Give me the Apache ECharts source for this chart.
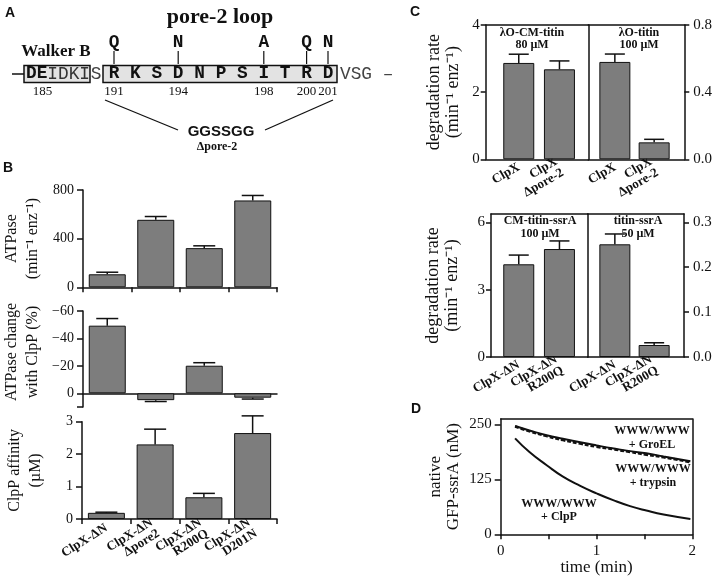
<!DOCTYPE html>
<html>
<head>
<meta charset="utf-8">
<script src="https://cdn.jsdelivr.net/npm/echarts@6/dist/echarts.min.js"></script>
<style>
  html, body { margin: 0; padding: 0; background: #fff; }
  #chart { width: 718px; height: 581px; }
</style>
</head>
<body>
<div id="chart"></div>
<script>
// ---- panel B data (ClpX-ΔN variants) ----
const bCategories = ['ClpX-ΔN', 'ClpX-ΔN\nΔpore2', 'ClpX-ΔN\nR200Q', 'ClpX-ΔN\nD201N'];
const atpaseRate = [107, 555, 322, 714];
const atpaseRateErr = [17, 27, 19, 41];
const atpaseChange = [-49.3, 5, -20.1, 3.2];
const atpaseChangeErr = [5.2, 1, 2.2, 1];
const clppAffinity = [0.19, 2.3, 0.67, 2.65];
const clppAffinityErr = [0.02, 0.47, 0.12, 0.53];

// ---- panel C data ----
const cTopCategories = ['ClpX', 'ClpX\nΔpore-2'];
const cmTitinRate = [2.87, 2.68];        // λO-CM-titin 80 µM, left axis
const cmTitinErr = [0.26, 0.25];
const titinRate = [0.58, 0.101];         // λO-titin 100 µM, right axis
const titinErr = [0.047, 0.018];
const cBotCategories = ['ClpX-ΔN', 'ClpX-ΔN\nR200Q'];
const cmTitinSsrARate = [4.13, 4.81];    // CM-titin-ssrA 100 µM, left axis
const cmTitinSsrAErr = [0.41, 0.36];
const titinSsrARate = [0.251, 0.0267];   // titin-ssrA 50 µM, right axis
const titinSsrAErr = [0.023, 0.005];

// ---- panel D data ----
const timeMin = [0.15, 0.3, 0.48, 0.65, 0.83, 1.0, 1.18, 1.35, 1.52, 1.7, 1.98];
const clpPCurve = [218, 187, 157, 131, 110, 93, 77, 64, 54, 45, 35];
const groELCurve = [246, 236, 225, 217, 209, 202, 195, 189, 184, 177, 166];
const trypsinCurve = [245, 234, 223, 214, 206, 199, 193, 187, 181, 175, 164];

// ---- panel A sequence ----
const walkerSeqBold = 'DE';
const walkerSeqRest = 'IDKI';
const poreSeq = ['R', 'K', 'S', 'D', 'N', 'P', 'S', 'I', 'T', 'R', 'D'];
const mutSites = [191, 194, 198, 200, 201];
const mutResidues = ['Q', 'N', 'A', 'Q', 'N'];
const residueTicks = [185, 191, 194, 198, 200, 201];

const SERIF = '"Liberation Serif", "Times New Roman", serif';
const SANS = '"Liberation Sans", Arial, sans-serif';
const MONO = '"Liberation Mono", "DejaVu Sans Mono", monospace';
const ink = '#111';
const barGray = '#7d7d7d';

let chart = echarts.init(document.getElementById('chart'));

function axisLine(show, onZero) {
    return { show: show, onZero: !!onZero, lineStyle: { color: ink, width: 1.5 } };
}

// a value axis with labels/ticks
function valueAxis(grid, min, max, labels, ticks, extra) {
    return Object.assign({
        type: 'value', gridIndex: grid, min: min, max: max,
        splitLine: { show: false },
        axisLine: axisLine(true, false),
        axisTick: { show: true, length: 6, customValues: ticks, lineStyle: { color: ink, width: 1.5 } },
        axisLabel: { color: ink, fontFamily: SERIF, fontSize: 14, margin: 9, customValues: labels }
    }, extra);
}

// an axis that only draws its line (used for frame borders)
function borderAxis(grid, position) {
    return {
        type: 'value', gridIndex: grid, position: position, min: 0, max: 1,
        axisLine: axisLine(true, false),
        axisTick: { show: false }, axisLabel: { show: false }, splitLine: { show: false }
    };
}

function hiddenY(grid, min, max) {
    return { type: 'value', gridIndex: grid, min: min, max: max, show: false, splitLine: { show: false } };
}

function catAxis(grid, data, opts) {
    return {
        type: 'category', gridIndex: grid, data: data,
        axisLine: axisLine(opts.line, opts.onZero),
        axisTick: { show: opts.ticks, length: 5, lineStyle: { color: ink, width: 1.5 } },
        axisLabel: {
            show: opts.labels, interval: 0, rotate: opts.rotate || 0, margin: opts.margin || 8,
            color: ink, fontFamily: SERIF, fontWeight: 'bold', fontSize: 13, lineHeight: 13
        }
    };
}

function yName(text, gap, size, lh, pad) {
    return {
        name: text, nameLocation: 'middle', nameGap: gap, nameRotate: 90,
        nameTextStyle: { color: ink, fontFamily: SERIF, fontSize: size, lineHeight: lh, padding: pad || 0 }
    };
}

function barSeries(xi, yi, values, width) {
    return {
        type: 'bar', xAxisIndex: xi, yAxisIndex: yi, data: values, barWidth: width, silent: true,
        itemStyle: { color: barGray, borderColor: ink, borderWidth: 1 }
    };
}

function errorSeries(xi, yi, values, errs, capW) {
    return {
        type: 'custom', xAxisIndex: xi, yAxisIndex: yi, z: 5, silent: true,
        data: values.map((v, i) => [i, v, v + (v < 0 ? -1 : 1) * errs[i]]),
        renderItem: function (params, api) {
            let p0 = api.coord([api.value(0), api.value(1)]);
            let p1 = api.coord([api.value(0), api.value(2)]);
            let st = { stroke: ink, lineWidth: 1.5 };
            return {
                type: 'group', children: [
                    { type: 'line', shape: { x1: p0[0], y1: p0[1], x2: p1[0], y2: p1[1] }, style: st },
                    { type: 'line', shape: { x1: p1[0] - capW / 2, y1: p1[1], x2: p1[0] + capW / 2, y2: p1[1] }, style: st }
                ]
            };
        }
    };
}

function txt(text, x, y, size, o) {
    o = o || {};
    return {
        type: 'text', silent: true, z: 10,
        style: {
            text: text, x: x, y: y,
            fontSize: size, fontFamily: o.family || SERIF, fontWeight: o.weight || 'normal',
            fill: o.fill || ink, lineHeight: o.lh || size,
            align: o.align || 'center', textAlign: o.align || 'center',
            verticalAlign: 'middle', textVerticalAlign: 'middle'
        }
    };
}

function seg(x1, y1, x2, y2, w) {
    return { type: 'line', silent: true, shape: { x1: x1, y1: y1, x2: x2, y2: y2 }, style: { stroke: ink, lineWidth: w || 1.5 } };
}

// ---- panel A drawing ----
const monoSize = 17.8;
const monoW = monoSize * 0.6;
const poreX = r => 114 + (r - 191) * 21.4;
let graphics = [];

graphics.push(txt('A', 10, 13, 14, { family: SANS, weight: 'bold' }));
graphics.push(txt('B', 8, 168, 14, { family: SANS, weight: 'bold' }));
graphics.push(txt('C', 415, 12, 14, { family: SANS, weight: 'bold' }));
graphics.push(txt('D', 416, 409, 14, { family: SANS, weight: 'bold' }));

graphics.push(txt('pore-2 loop', 220, 17, 22, { weight: 'bold' }));
graphics.push(txt('Walker B', 56, 52, 17, { weight: 'bold' }));
graphics.push({ type: 'rect', silent: true, shape: { x: 24, y: 65.5, width: 66, height: 17 }, style: { fill: '#e3e3e3', stroke: ink, lineWidth: 1.5 } });
graphics.push({ type: 'rect', silent: true, shape: { x: 103, y: 65.5, width: 234, height: 17 }, style: { fill: '#e3e3e3', stroke: ink, lineWidth: 1.5 } });
graphics.push(seg(12, 74, 24, 74, 1.5));
graphics.push(txt(walkerSeqBold, 26, 74, monoSize, { family: MONO, weight: 'bold', align: 'left' }));
graphics.push(txt(walkerSeqRest, 26 + 2 * monoW, 74, monoSize, { family: MONO, align: 'left', fill: '#333' }));
graphics.push(txt('S', 96, 74, monoSize, { family: MONO, fill: '#444' }));
poreSeq.forEach((aa, i) => graphics.push(txt(aa, poreX(191 + i), 74, monoSize, { family: MONO, weight: 'bold' })));
graphics.push(txt('VSG –', 340, 74, monoSize, { family: MONO, align: 'left', fill: '#444' }));
mutSites.forEach((r, i) => {
    graphics.push(txt(mutResidues[i], poreX(r), 43, monoSize, { family: MONO, weight: 'bold' }));
    graphics.push(seg(poreX(r), 51, poreX(r), 64, 1.2));
});
residueTicks.forEach(r => {
    let x = r < 191 ? 42.5 : poreX(r);
    graphics.push(txt(String(r), x, 92, 13));
});
graphics.push(seg(105, 100, 178, 130, 1.3));
graphics.push(seg(333, 100, 265, 130, 1.3));
graphics.push(txt('GGSSGG', 221, 132, 15, { family: SANS, weight: 'bold' }));
graphics.push(txt('Δpore-2', 217, 147, 12, { weight: 'bold' }));

// ---- annotations in C and D ----
graphics.push(txt('λO-CM-titin\n80 µM', 532, 38.5, 12, { weight: 'bold', lh: 12 }));
graphics.push(txt('λO-titin\n100 µM', 639, 38.5, 12, { weight: 'bold', lh: 12 }));
graphics.push(txt('CM-titin-ssrA\n100 µM', 540, 227.5, 12, { weight: 'bold', lh: 13 }));
graphics.push(txt('titin-ssrA\n50 µM', 638, 227.5, 12, { weight: 'bold', lh: 13 }));
graphics.push(txt('WWW/WWW\n+ GroEL', 652, 437.5, 12, { weight: 'bold', lh: 14 }));
graphics.push(txt('WWW/WWW\n+ trypsin', 653, 475.5, 12, { weight: 'bold', lh: 14 }));
graphics.push(txt('WWW/WWW\n+ ClpP', 559, 510.5, 12, { weight: 'bold', lh: 13 }));

const rateName = 'degradation rate\n(min\u207B\u00B9 enz\u207B\u00B9)';
const minusFmt = v => (v < 0 ? '\u2212' + (-v) : String(v));
const oneDec = v => v.toFixed(1);

let option = {
    animation: false,
    backgroundColor: '#fff',
    textStyle: { fontFamily: SERIF },
    grid: [
        { left: 82, top: 190, width: 195, height: 97.3 },        // 0 B ATPase
        { left: 82, top: 311, width: 195, height: 96 },          // 1 B ATPase change
        { left: 82, top: 421.7, width: 195, height: 97.3 },      // 2 B ClpP affinity
        { left: 485.7, top: 25, width: 102.6, height: 134.3 },   // 3 C top frame L
        { left: 588.3, top: 25, width: 96, height: 134.3 },      // 4 C top frame R
        { left: 498.4, top: 25, width: 81.4, height: 134.3 },    // 5 C top bars L
        { left: 595.2, top: 25, width: 78.6, height: 134.3 },    // 6 C top bars R
        { left: 491, top: 214, width: 96.7, height: 143 },       // 7 C bottom frame L
        { left: 587.7, top: 214, width: 96.3, height: 143 },     // 8 C bottom frame R
        { left: 498.4, top: 214, width: 81.4, height: 143 },     // 9 C bottom bars L
        { left: 595.2, top: 214, width: 78.6, height: 143 },     // 10 C bottom bars R
        { left: 500.7, top: 419, width: 191.6, height: 115.3 }   // 11 D
    ],
    xAxis: [
        catAxis(0, bCategories, { line: true, ticks: true, labels: false }),                        // 0
        catAxis(1, bCategories, { line: true, onZero: true, ticks: false, labels: false }),         // 1
        catAxis(2, bCategories, { line: true, ticks: true, labels: true, rotate: 32, margin: 8 }),  // 2
        borderAxis(3, 'bottom'),                                                                     // 3
        borderAxis(3, 'top'),                                                                        // 4
        borderAxis(4, 'bottom'),                                                                     // 5
        borderAxis(4, 'top'),                                                                        // 6
        catAxis(5, cTopCategories, { line: false, ticks: false, labels: true, rotate: 30, margin: 7 }), // 7
        catAxis(6, cTopCategories, { line: false, ticks: false, labels: true, rotate: 30, margin: 7 }), // 8
        borderAxis(7, 'bottom'),                                                                     // 9
        borderAxis(7, 'top'),                                                                        // 10
        borderAxis(8, 'bottom'),                                                                     // 11
        borderAxis(8, 'top'),                                                                        // 12
        catAxis(9, cBotCategories, { line: false, ticks: false, labels: true, rotate: 30, margin: 7 }),  // 13
        catAxis(10, cBotCategories, { line: false, ticks: false, labels: true, rotate: 30, margin: 7 }), // 14
        Object.assign(valueAxis(11, 0, 2, [0, 1, 2], [0, 0.5, 1, 1.5, 2], {}), {                     // 15
            name: 'time (min)', nameLocation: 'middle', nameGap: 23,
            nameTextStyle: { color: ink, fontFamily: SERIF, fontSize: 17 }
        }),
        borderAxis(11, 'top')                                                                        // 16
    ],
    yAxis: [
        Object.assign(valueAxis(0, 0, 800, [0, 400, 800], [0, 400, 800]),
            yName('ATPase\n(min\u207B\u00B9 enz\u207B\u00B9)', 40, 16, 21)),                         // 0
        Object.assign(valueAxis(1, -60, 10, [-60, -40, -20, 0], [-60, -40, -20, 0, 10], { inverse: true }),
            yName('ATPase change\nwith ClpP (%)', 40, 16, 21, [0, 0, 0, 14])),                       // 1
        Object.assign(valueAxis(2, 0, 3, [0, 1, 2, 3], [0, 1, 2, 3]),
            yName('ClpP affinity\n(µM)', 36, 16, 21)),                                                // 2
        Object.assign(valueAxis(3, 0, 4, [0, 2, 4], [0, 2, 4]), yName(rateName, 23, 18, 19)),        // 3
        valueAxis(4, 0, 0.8, [0, 0.4, 0.8], [0, 0.4, 0.8], { position: 'right' }),                   // 4
        Object.assign(borderAxis(4, 'left'), { type: 'value' }),                                     // 5
        hiddenY(5, 0, 4),                                                                            // 6
        hiddenY(6, 0, 0.8),                                                                          // 7
        Object.assign(valueAxis(7, 0, 6.37, [0, 3, 6], [0, 3, 6]), yName(rateName, 29, 18, 19)),     // 8
        valueAxis(8, 0, 0.3185, [0, 0.1, 0.2, 0.3], [0, 0.1, 0.2, 0.3], { position: 'right' }),     // 9
        borderAxis(8, 'left'),                                                                       // 10
        hiddenY(9, 0, 6.37),                                                                         // 11
        hiddenY(10, 0, 0.3185),                                                                      // 12
        Object.assign(valueAxis(11, 0, 262, [0, 125, 250], [0, 125, 250]),
            yName('native\nGFP-ssrA (nM)', 38, 17, 18)),                                             // 13
        borderAxis(11, 'right')                                                                      // 14
    ],
    series: [
        barSeries(0, 0, atpaseRate, 37), errorSeries(0, 0, atpaseRate, atpaseRateErr, 22),
        barSeries(1, 1, atpaseChange, 37), errorSeries(1, 1, atpaseChange, atpaseChangeErr, 22),
        barSeries(2, 2, clppAffinity, 37), errorSeries(2, 2, clppAffinity, clppAffinityErr, 22),
        barSeries(7, 6, cmTitinRate, 31), errorSeries(7, 6, cmTitinRate, cmTitinErr, 20),
        barSeries(8, 7, titinRate, 31), errorSeries(8, 7, titinRate, titinErr, 20),
        barSeries(13, 11, cmTitinSsrARate, 31), errorSeries(13, 11, cmTitinSsrARate, cmTitinSsrAErr, 20),
        barSeries(14, 12, titinSsrARate, 31), errorSeries(14, 12, titinSsrARate, titinSsrAErr, 20),
        {
            type: 'line', xAxisIndex: 15, yAxisIndex: 13, smooth: true, showSymbol: false, silent: true,
            data: timeMin.map((t, i) => [t, groELCurve[i]]),
            lineStyle: { color: ink, width: 2 }
        },
        {
            type: 'line', xAxisIndex: 15, yAxisIndex: 13, smooth: true, showSymbol: false, silent: true,
            data: timeMin.map((t, i) => [t, trypsinCurve[i]]),
            lineStyle: { color: ink, width: 2.5, type: [4, 2] }
        },
        {
            type: 'line', xAxisIndex: 15, yAxisIndex: 13, smooth: true, showSymbol: false, silent: true,
            data: timeMin.map((t, i) => [t, clpPCurve[i]]),
            lineStyle: { color: ink, width: 2 }
        }
    ],
    graphic: graphics
};

// tick label formats
option.yAxis[1].axisLabel.formatter = minusFmt;
option.yAxis[4].axisLabel.formatter = oneDec;
option.yAxis[4].axisLabel.margin = 9;
option.yAxis[9].axisLabel.formatter = oneDec;
option.yAxis[3].axisLabel.margin = 6;
option.yAxis[8].axisLabel.margin = 6;
[3, 4, 8, 9].forEach(i => { option.yAxis[i].axisLabel.fontSize = 15; option.yAxis[i].axisTick.length = 5; });
option.yAxis[13].axisLabel.fontSize = 15;
option.xAxis[15].axisLabel.fontSize = 15;
option.xAxis[15].axisTick.length = 5;

chart.setOption(option);
</script>
</body>
</html>
